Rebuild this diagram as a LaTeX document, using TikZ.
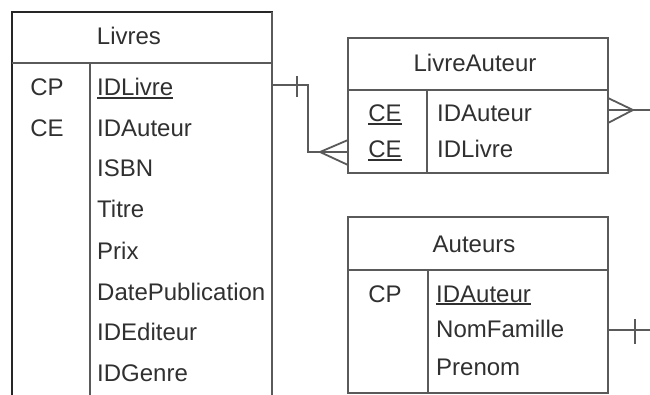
\documentclass[tikz,border=0pt]{standalone}
\usepackage{fontspec}
\setmainfont{Liberation Sans}
\usetikzlibrary{positioning, calc}

\definecolor{erline}{HTML}{5A5A5A}
\definecolor{ertext}{HTML}{303030}
\newcommand{\keyul}[1]{\leavevmode\setbox0\hbox{#1}\rlap{\rule[-2.6pt]{\wd0}{1.5pt}}\box0}

\begin{document}
\begin{tikzpicture}[
x=1pt, y=-1pt,
every node/.style={font=\fontsize{24}{28}\selectfont, text=ertext, inner sep=0pt},
tbl/.style={rectangle, draw=erline, line width=2pt, outer sep=0pt, anchor=north west},
sep/.style={draw=erline, line width=2pt},
title/.style={anchor=base},
key/.style={anchor=base},
field/.style={anchor=base west},
rel/.style={draw=erline, line width=1.8pt}
]
\clip (0,0) rectangle (650,395);

% tables
\node[tbl, draw=black!85, minimum width=260pt, minimum height=430pt] (livres) at (12,12) {};
\node[tbl, minimum width=260pt, minimum height=135pt] (livreauteur) at (348,38) {};
\node[tbl, minimum width=260pt, minimum height=176pt] (auteurs) at (348,217) {};
\draw[erline, line width=2pt] (livres.north east) -- (livres.south east);

\draw[sep] (12,63) -- (272,63);
\draw[sep] (90,63) -- (90,400);
\draw[sep] (348,90) -- (608,90);
\draw[sep] (427,90) -- (427,173);
\draw[sep] (348,270) -- (608,270);
\draw[sep] (428,270) -- (428,393);

% Livres
\node[title] (livresT) at (129,45) {Livres};
\node[key] (lvCP) at (47,96) {CP};
\node[key] (lvCE) at (47,137) {CE};
\node[field] (lvIDLivre) at (97,96) {\keyul{IDLivre}};
\node[field] (lvIDAuteur) at (97,137) {IDAuteur};
\node[field] (lvISBN) at (97,177) {ISBN};
\node[field] (lvTitre) at (97,218) {Titre};
\node[field] (lvPrix) at (97,259) {Prix};
\node[field] (lvDate) at (97,300) {DatePublication};
\node[field] (lvIDEditeur) at (97,340) {IDEditeur};
\node[field] (lvIDGenre) at (97,381) {IDGenre};

% LivreAuteur
\node[title] (livreauteurT) at (475,72) {LivreAuteur};
\node[key] (laCE1) at (385,122) {\keyul{CE}};
\node[key] (laCE2) at (385,158) {\keyul{CE}};
\node[field] (laIDAuteur) at (437,122) {IDAuteur};
\node[field] (laIDLivre) at (437,158) {IDLivre};

% Auteurs
\node[title] (auteursT) at (474,252) {Auteurs};
\node[key] (auCP) at (385,302) {CP};
\node[field] (auIDAuteur) at (436,302) {\keyul{IDAuteur}};
\node[field] (auNomFamille) at (436,337) {NomFamille};
\node[field] (auPrenom) at (436,375) {Prenom};

% relations
\coordinate (lvOut) at (livres.east |- 0,85);
\coordinate (laIn) at (livreauteur.west |- 0,152);
\coordinate (laOut) at (livreauteur.east |- 0,110);
\coordinate (laEnd) at (655,110);
\coordinate (auOut) at (auteurs.east |- 0,330);
\coordinate (auEnd) at (655,330);

\draw[rel] (lvOut) -- ++(36,0) |- (laIn);
\draw[rel] ($(lvOut)+(25,-9)$) -- ++(0,21);
\draw[rel] ($(laIn)+(0,-12)$) -- ($(laIn)+(-28,0)$) -- ($(laIn)+(0,13)$);

\draw[rel] (laOut) -- (laEnd);
\draw[rel] ($(laOut)+(0,-12)$) -- ($(laOut)+(25,0)$) -- ($(laOut)+(0,13)$);

\draw[rel] (auOut) -- (auEnd);
\draw[rel] ($(auOut)+(27,-11)$) -- ++(0,25);
\end{tikzpicture}
\end{document}
